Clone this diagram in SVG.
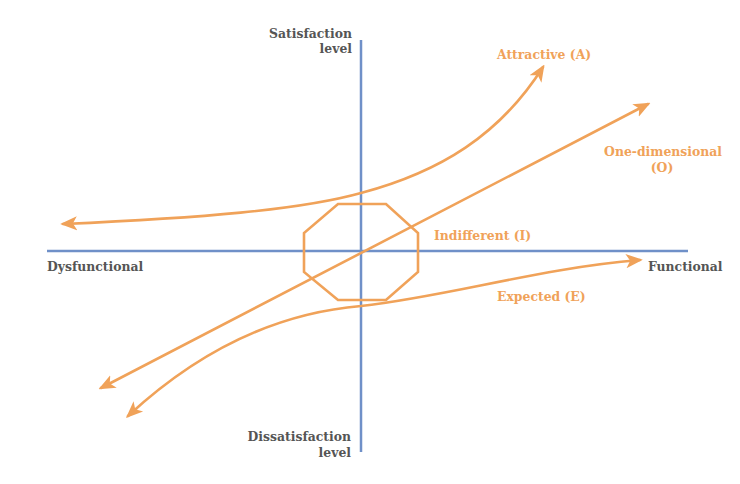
<svg xmlns="http://www.w3.org/2000/svg" width="740" height="484" viewBox="0 0 740 484">
<style>
.ax{stroke:#6F90C8;stroke-width:2.5;fill:none}
.cv{stroke:#F0A259;stroke-width:2.6;fill:none;stroke-linecap:round}
.lbl{font-family:"DejaVu Serif",serif;font-weight:bold;font-size:12.4px;fill:#555555}
.ol{font-family:"DejaVu Serif",serif;font-weight:bold;font-size:12.4px;fill:#F0A259}
</style>
<defs>
<marker id="ah" viewBox="0 0 12 10" refX="10" refY="5" markerWidth="6.5" markerHeight="6.5" markerUnits="strokeWidth" orient="auto">
<path d="M0,0 L12,5 L0,10 L3,5 z" fill="#F0A259"/>
</marker>
<marker id="ahs" viewBox="0 0 12 10" refX="10" refY="5" markerWidth="6.5" markerHeight="6.5" markerUnits="strokeWidth" orient="auto-start-reverse">
<path d="M0,0 L12,5 L0,10 L3,5 z" fill="#F0A259"/>
</marker>
</defs>
<rect width="740" height="484" fill="#ffffff"/>
<g id="axes">
<line class="ax" x1="361" y1="40" x2="361" y2="452"/>
<line class="ax" x1="47" y1="251" x2="688" y2="251"/>
</g>
<g id="indifferent">
<polygon class="cv" points="338,204 386,204 418,233 418,272 386,300 338,300 304,272 304,233"/>
<text class="ol" x="434" y="240">Indifferent (I)</text>
</g>
<g id="connectors">
<path id="attractive-curve" class="cv" marker-start="url(#ahs)" marker-end="url(#ah)" d="M63,224 C200,218 300,210 361,193 C440,172 500,135 543,67"/>
<path id="onedim-line" class="cv" marker-start="url(#ahs)" marker-end="url(#ah)" d="M101,388 L648,104"/>
<path id="expected-curve" class="cv" marker-start="url(#ahs)" marker-end="url(#ah)" d="M128,416 C210,340 290,312 361,306 C450,296 540,268 640,260"/>
</g>
<g id="attractive"><text class="ol" x="497" y="59">Attractive (A)</text></g>
<g id="onedimensional">
<text class="ol" x="722" y="156" text-anchor="end">One-dimensional</text>
<text class="ol" x="662" y="172" text-anchor="middle">(O)</text>
</g>
<g id="expected"><text class="ol" x="497" y="301">Expected (E)</text></g>
<g id="satisfaction">
<text class="lbl" x="352" y="38" text-anchor="end">Satisfaction</text>
<text class="lbl" x="352" y="53" text-anchor="end">level</text>
</g>
<g id="dissatisfaction">
<text class="lbl" x="351" y="441" text-anchor="end">Dissatisfaction</text>
<text class="lbl" x="351" y="457" text-anchor="end">level</text>
</g>
<g id="dysfunctional"><text class="lbl" x="47" y="271">Dysfunctional</text></g>
<g id="functional"><text class="lbl" x="648" y="271">Functional</text></g>
</svg>
